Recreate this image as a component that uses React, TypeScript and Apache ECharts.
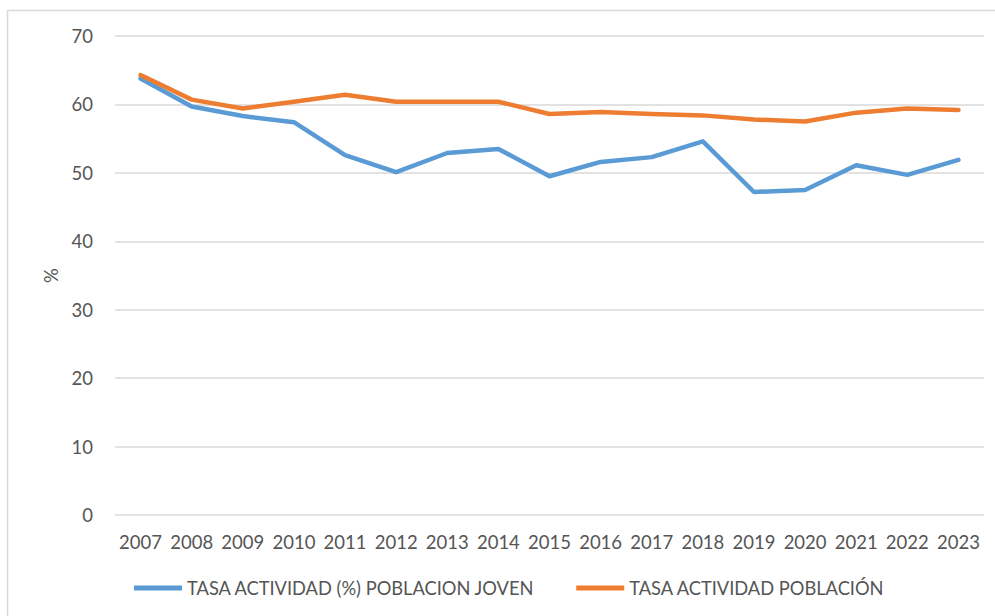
import React, { useEffect, useRef } from "react";
import * as echarts from "echarts";

const years = ["2007","2008","2009","2010","2011","2012","2013","2014","2015","2016","2017","2018","2019","2020","2021","2022","2023"];
const jovenName = "TASA ACTIVIDAD (%) POBLACION JOVEN";
const poblacionName = "TASA ACTIVIDAD POBLACIÓN";
const jovenValues = [63.8, 59.7, 58.3, 57.4, 52.6, 50.1, 52.9, 53.5, 49.5, 51.6, 52.3, 54.6, 47.2, 47.5, 51.1, 49.7, 51.9];
const poblacionValues = [64.3, 60.7, 59.4, 60.4, 61.4, 60.4, 60.4, 60.4, 58.6, 58.9, 58.6, 58.4, 57.8, 57.5, 58.8, 59.4, 59.2];
const yMin = 0;
const yMax = 70;
const yInterval = 10;

const FONT = "Lato, 'Open Sans', sans-serif";
const TEXT = "#555555";

export default function App() {
  const ref = useRef<HTMLDivElement>(null);
  useEffect(() => {
    document.body.style.margin = "0";
    if (!ref.current) return;
    const chart = echarts.init(ref.current, undefined, { renderer: "svg" });
    chart.setOption({
      animation: false,
      backgroundColor: "#ffffff",
      textStyle: { fontFamily: FONT, color: TEXT },
      graphic: [
        {
          type: "rect",
          shape: { x: 7.5, y: 10.5, width: 1100, height: 800 },
          style: { fill: "none", stroke: "#d9d9d9", lineWidth: 1.5 },
          silent: true,
        },
      ],
      grid: { left: 115, right: 11, top: 36, bottom: 101 },
      legend: {
        left: 134,
        top: 579,
        padding: 0,
        itemWidth: 48,
        itemHeight: 5,
        itemGap: 41,
        icon: "rect",
        textStyle: { fontFamily: FONT, fontSize: 18.3, color: TEXT },
        data: [jovenName, poblacionName],
      },
      xAxis: {
        type: "category",
        data: years,
        boundaryGap: true,
        axisLine: { show: false },
        axisTick: { show: false },
        axisLabel: { margin: 17, fontFamily: FONT, fontSize: 18.5, color: TEXT, interval: 0 },
      },
      yAxis: {
        type: "value",
        min: yMin,
        max: yMax,
        interval: yInterval,
        name: "%",
        nameLocation: "middle",
        nameGap: 51,
        nameRotate: 90,
        nameTextStyle: { fontFamily: FONT, fontSize: 18.5, color: TEXT },
        axisLine: { show: false },
        axisTick: { show: false },
        axisLabel: { margin: 22, fontFamily: FONT, fontSize: 18.5, color: TEXT },
        splitLine: { lineStyle: { color: "#d9d9d9", width: 1.5 } },
      },
      series: [
        {
          name: jovenName,
          type: "line",
          data: jovenValues,
          symbol: "none",
          lineStyle: { color: "#5b9bd5", width: 4.5, cap: "round", join: "round" },
          itemStyle: { color: "#5b9bd5" },
        },
        {
          name: poblacionName,
          type: "line",
          data: poblacionValues,
          symbol: "none",
          lineStyle: { color: "#ed7d31", width: 4.5, cap: "round", join: "round" },
          itemStyle: { color: "#ed7d31" },
        },
      ],
    });
    return () => chart.dispose();
  }, []);
  return <div ref={ref} style={{ width: 995, height: 616 }} />;
}
